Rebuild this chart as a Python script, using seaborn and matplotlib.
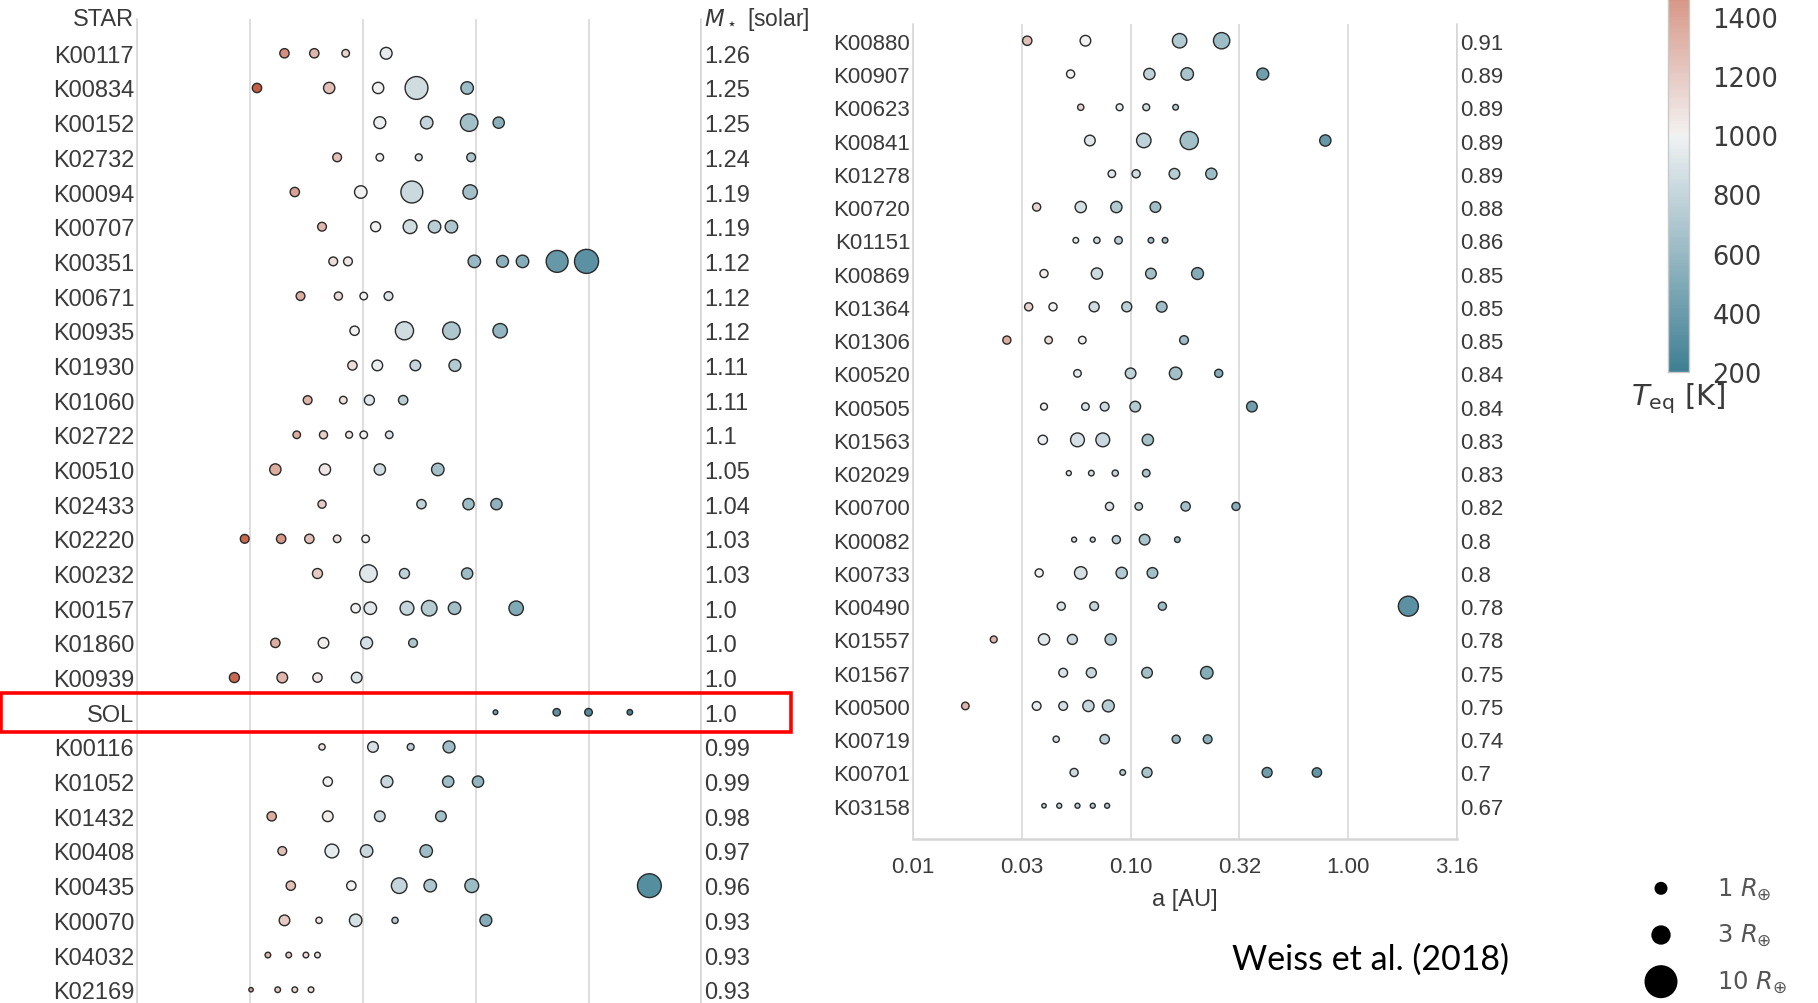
import numpy as np
import pandas as pd
import matplotlib
matplotlib.use("Agg")
import matplotlib.pyplot as plt
import matplotlib.transforms as mtransforms
from matplotlib.patches import Rectangle
from matplotlib.colors import Normalize
from matplotlib.cm import ScalarMappable
from matplotlib.ticker import NullLocator
import seaborn as sns

# ---------------------------------------------------------------------------
# Host stars, stellar masses [M_sun]
# ---------------------------------------------------------------------------
stars_left = ["K00117", "K00834", "K00152", "K02732", "K00094", "K00707",
              "K00351", "K00671", "K00935", "K01930", "K01060", "K02722",
              "K00510", "K02433", "K02220", "K00232", "K00157", "K01860",
              "K00939", "SOL", "K00116", "K01052", "K01432", "K00408",
              "K00435", "K00070", "K04032", "K02169"]
mass_left = [1.26, 1.25, 1.25, 1.24, 1.19, 1.19, 1.12, 1.12, 1.12, 1.11,
             1.11, 1.1, 1.05, 1.04, 1.03, 1.03, 1.0, 1.0, 1.0, 1.0, 0.99,
             0.99, 0.98, 0.97, 0.96, 0.93, 0.93, 0.93]

stars_right = ["K00880", "K00907", "K00623", "K00841", "K01278", "K00720",
               "K01151", "K00869", "K01364", "K01306", "K00520", "K00505",
               "K01563", "K02029", "K00700", "K00082", "K00733", "K00490",
               "K01557", "K01567", "K00500", "K00719", "K00701", "K03158"]
mass_right = [0.91, 0.89, 0.89, 0.89, 0.89, 0.88, 0.86, 0.85, 0.85, 0.85,
              0.84, 0.84, 0.83, 0.83, 0.82, 0.8, 0.8, 0.78, 0.78, 0.75,
              0.75, 0.74, 0.7, 0.67]

# ---------------------------------------------------------------------------
# Planets per star: semi-major axis [AU], radius [R_earth], T_eq [K]
# ---------------------------------------------------------------------------
a_left = [
    [0.045, 0.061, 0.084, 0.127],                 # K00117
    [0.034, 0.071, 0.117, 0.173, 0.29],           # K00834
    [0.119, 0.192, 0.296, 0.40],                  # K00152
    [0.077, 0.119, 0.177, 0.302],                 # K02732
    [0.050, 0.098, 0.165, 0.299],                 # K00094
    [0.066, 0.114, 0.162, 0.208, 0.247],          # K00707
    [0.074, 0.086, 0.312, 0.416, 0.51, 0.726, 0.98],  # K00351
    [0.053, 0.078, 0.101, 0.130],                 # K00671
    [0.092, 0.153, 0.247, 0.406],                 # K00935
    [0.090, 0.116, 0.171, 0.256],                 # K01930
    [0.057, 0.082, 0.107, 0.151],                 # K01060
    [0.051, 0.067, 0.087, 0.101, 0.131],          # K02722
    [0.041, 0.068, 0.119, 0.215],                 # K00510
    [0.066, 0.182, 0.294, 0.391],                 # K02433
    [0.030, 0.0435, 0.058, 0.077, 0.103],         # K02220
    [0.063, 0.106, 0.153, 0.29],                  # K00232
    [0.093, 0.108, 0.157, 0.197, 0.255, 0.478],   # K00157
    [0.041, 0.067, 0.104, 0.167],                 # K01860
    [0.027, 0.044, 0.063, 0.094],                 # K00939
    [0.387, 0.723, 1.0, 1.524],                   # SOL
    [0.066, 0.111, 0.163, 0.241],                 # K00116
    [0.070, 0.128, 0.239, 0.324],                 # K01052
    [0.0395, 0.070, 0.119, 0.222],                # K01432
    [0.044, 0.073, 0.104, 0.191],                 # K00408
    [0.048, 0.089, 0.145, 0.199, 0.304, 1.86],    # K00435
    [0.045, 0.064, 0.093, 0.139, 0.351],          # K00070
    [0.038, 0.047, 0.056, 0.063],                 # K04032
    [0.032, 0.042, 0.050, 0.059],                 # K02169
]
r_left = [
    [1.5, 1.5, 1.0, 2.4],
    [1.5, 2.2, 2.2, 9.0, 2.7],
    [2.45, 2.7, 5.3, 2.2],
    [1.33, 0.98, 0.82, 1.33],
    [1.5, 2.7, 8.3, 3.6],
    [1.33, 1.73, 3.3, 2.7, 2.7],
    [1.33, 1.33, 2.7, 2.45, 2.7, 8.3, 10.8],
    [1.33, 1.14, 0.98, 1.33],
    [1.5, 5.7, 5.3, 3.6],
    [1.5, 1.96, 1.96, 2.45],
    [1.33, 0.98, 1.73, 1.5],
    [0.98, 1.14, 0.82, 0.98, 0.98],
    [2.2, 2.2, 2.2, 2.7],
    [1.14, 1.5, 2.2, 2.2],
    [1.33, 1.5, 1.5, 0.98, 0.98],
    [1.73, 5.3, 1.73, 2.2],
    [1.5, 2.7, 3.3, 4.2, 2.7, 3.6],
    [1.5, 1.96, 2.45, 1.33],
    [1.73, 1.96, 1.5, 1.96],
    [0.38, 0.95, 1.0, 0.53],
    [0.68, 1.96, 0.82, 2.45],
    [1.5, 2.45, 2.2, 2.2],
    [1.5, 1.96, 1.96, 1.96],
    [1.33, 3.3, 2.7, 2.7],
    [1.5, 1.5, 4.2, 2.7, 3.3, 9.8],
    [1.96, 0.68, 2.7, 0.68, 2.45],
    [0.55, 0.55, 0.55, 0.55],
    [0.33, 0.55, 0.55, 0.55],
]
teq_left = [
    [1500, 1300, 1150, 950],
    [1750, 1250, 1000, 850, 620],
    [980, 800, 650, 540],
    [1250, 1000, 900, 700],
    [1400, 1000, 830, 650],
    [1300, 1000, 850, 750, 700],
    [1100, 1050, 600, 550, 520, 380, 330],
    [1350, 1120, 1000, 900],
    [1000, 850, 700, 580],
    [1100, 980, 800, 720],
    [1300, 1080, 920, 750],
    [1350, 1180, 1050, 1000, 900],
    [1350, 1050, 850, 650],
    [1200, 780, 620, 560],
    [1700, 1450, 1250, 1080, 1000],
    [1200, 920, 780, 620],
    [1000, 930, 800, 730, 650, 500],
    [1350, 1020, 870, 700],
    [1700, 1300, 1050, 900],
    [440, 330, 280, 225],
    [1080, 880, 760, 640],
    [1000, 820, 640, 580],
    [1350, 1020, 830, 650],
    [1250, 950, 820, 630],
    [1250, 1000, 800, 700, 620, 300],
    [1200, 1050, 880, 730, 520],
    [1300, 1200, 1120, 1080],
    [1400, 1200, 1120, 1080],
]

a_right = [
    [0.0335, 0.062, 0.168, 0.262],                # K00880
    [0.053, 0.122, 0.182, 0.405],                 # K00907
    [0.059, 0.089, 0.118, 0.161],                 # K00623
    [0.065, 0.115, 0.186, 0.785],                 # K00841
    [0.082, 0.106, 0.159, 0.235],                 # K01278
    [0.037, 0.059, 0.086, 0.130],                 # K00720
    [0.056, 0.070, 0.088, 0.124, 0.144],          # K01151
    [0.040, 0.070, 0.124, 0.203],                 # K00869
    [0.034, 0.044, 0.068, 0.096, 0.139],          # K01364
    [0.027, 0.042, 0.060, 0.176],                 # K01306
    [0.057, 0.100, 0.161, 0.254],                 # K00520
    [0.040, 0.062, 0.076, 0.105, 0.361],          # K00505
    [0.0395, 0.057, 0.0745, 0.120],               # K01563
    [0.052, 0.066, 0.085, 0.118],                 # K02029
    [0.080, 0.109, 0.179, 0.305],                 # K00700
    [0.055, 0.067, 0.086, 0.116, 0.164],          # K00082
    [0.038, 0.059, 0.091, 0.126],                 # K00733
    [0.048, 0.068, 0.140, 1.89],                  # K00490
    [0.0235, 0.040, 0.054, 0.081],                # K01557
    [0.049, 0.066, 0.119, 0.224],                 # K01567
    [0.0174, 0.037, 0.049, 0.064, 0.079],         # K00500
    [0.0455, 0.076, 0.162, 0.226],                # K00719
    [0.055, 0.092, 0.119, 0.424, 0.718],          # K00701
    [0.040, 0.047, 0.057, 0.067, 0.078],          # K03158
]
r_right = [
    [1.5, 1.96, 3.6, 4.6],
    [1.14, 2.2, 2.7, 2.45],
    [0.68, 0.82, 0.82, 0.55],
    [1.96, 3.6, 5.7, 2.2],
    [0.98, 1.14, 1.96, 2.2],
    [1.14, 2.2, 2.2, 1.96],
    [0.55, 0.68, 0.98, 0.55, 0.55],
    [1.14, 2.2, 1.96, 2.45],
    [1.14, 1.14, 1.73, 1.73, 1.96],
    [1.14, 0.98, 0.98, 1.33],
    [0.98, 1.96, 2.7, 1.14],
    [0.82, 0.98, 1.33, 1.96, 1.96],
    [1.5, 3.3, 3.3, 2.2],
    [0.43, 0.55, 0.68, 0.98],
    [1.14, 0.98, 1.5, 1.14],
    [0.43, 0.43, 1.14, 1.96, 0.55],
    [1.14, 2.7, 2.2, 1.96],
    [1.14, 1.33, 1.14, 6.9],
    [0.82, 2.2, 1.73, 2.2],
    [1.33, 1.73, 1.96, 2.7],
    [0.98, 1.33, 1.33, 2.2, 2.45],
    [0.68, 1.52, 1.14, 1.33],
    [1.14, 0.55, 1.73, 1.73, 1.52],
    [0.33, 0.43, 0.43, 0.43, 0.43],
]
teq_right = [
    [1250, 1000, 720, 620],
    [1000, 780, 680, 420],
    [1150, 950, 850, 750],
    [920, 770, 650, 380],
    [920, 850, 740, 620],
    [1150, 880, 720, 640],
    [950, 850, 760, 680, 650],
    [1020, 840, 650, 520],
    [1150, 1000, 850, 760, 640],
    [1350, 1120, 1000, 640],
    [950, 780, 650, 520],
    [1000, 900, 840, 730, 420],
    [980, 880, 820, 660],
    [950, 870, 800, 680],
    [900, 780, 650, 530],
    [880, 830, 760, 680, 580],
    [1000, 880, 720, 650],
    [900, 800, 620, 330],
    [1300, 920, 820, 720],
    [900, 820, 650, 520],
    [1300, 950, 880, 800, 740],
    [870, 750, 600, 550],
    [840, 740, 680, 420, 370],
    [800, 780, 750, 730, 720],
]

# Size key values [R_earth]
legend_radii = [1, 3, 10]

# Colour-bar tick values [K]
teq_ticks = [200, 400, 600, 800, 1000, 1200, 1400]

# ---------------------------------------------------------------------------
# Style
# ---------------------------------------------------------------------------
sns.set_theme(style="white")
plt.rcParams["font.family"] = ["Liberation Sans", "DejaVu Sans"]
plt.rcParams["mathtext.fontset"] = "dejavusans"

W, H = 1818, 1004
fig = plt.figure(figsize=(W / 100, H / 100), dpi=100)

GRID = "#d5d5d5"
TXT = "#3a3a3a"
cmap = sns.diverging_palette(220, 20, as_cmap=True)
TEQ_NORM = (200, 1800)


def px_axes(x0, y0, x1, y1):
    """Axes placed by pixel box (top-left origin)."""
    return fig.add_axes([x0 / W, 1 - y1 / H, (x1 - x0) / W, (y1 - y0) / H])


def planet_frame(stars, a_lists, r_lists, t_lists):
    rec = []
    for row, (s, aa, rr, tt) in enumerate(zip(stars, a_lists, r_lists, t_lists)):
        for a, r, t in zip(aa, rr, tt):
            rec.append({"star": s, "row": row, "a": a, "radius": r, "teq": t})
    return pd.DataFrame(rec)


def draw_panel(ax, stars, masses, a_lists, r_lists, t_lists, row_offset,
               ylim, label_size):
    df = planet_frame(stars, a_lists, r_lists, t_lists)
    ax.set_xscale("log")
    sns.scatterplot(data=df, x="a", y="row", hue="teq", size="radius",
                    palette=cmap, hue_norm=TEQ_NORM,
                    sizes=(0, 300), size_norm=(0, 10),
                    edgecolor="#2a2a2a", linewidth=1.0, legend=False,
                    ax=ax, zorder=3)
    ax.set_xlim(10 ** -2, 10 ** 0.5)
    ax.set_ylim(*ylim)
    xt = 10 ** np.arange(-2, 0.51, 0.5)
    ax.set_xticks(xt)
    ax.set_xticklabels([f"{v:.2f}" for v in xt])
    ax.xaxis.set_minor_locator(NullLocator())
    rows = np.arange(len(stars))
    ax.set_yticks(rows)
    ax.set_yticklabels(stars)
    ax.set_yticks([r for r in rows if (r + row_offset) % 10 == 2], minor=True)
    ax.grid(False)
    ax.grid(True, axis="x", which="major", color=GRID, lw=1.1)
    ax.grid(True, axis="y", which="minor", color=GRID, lw=1.6)
    ax.set_axisbelow(True)
    ax.tick_params(which="both", length=0)
    ax.tick_params(axis="y", pad=2, labelsize=label_size, labelcolor=TXT)
    ax.tick_params(axis="x", pad=12, labelsize=16, labelcolor=TXT)
    ax.set_xlabel("")
    ax.set_ylabel("")
    ax.spines["top"].set_visible(False)
    for side in ("left", "right", "bottom"):
        ax.spines[side].set_color(GRID)
        ax.spines[side].set_linewidth(1.1)

    ax2 = ax.twinx()
    ax2.set_ylim(ax.get_ylim())
    ax2.set_yticks(rows)
    ax2.set_yticklabels([str(m) for m in masses])
    ax2.tick_params(length=0, pad=2, labelsize=label_size, labelcolor=TXT)
    ax2.grid(False)
    for sp in ax2.spines.values():
        sp.set_visible(False)
    return ax2


# ---------------------------------------------------------------------------
# Left column (first 28 systems, incl. the Solar System)
# ---------------------------------------------------------------------------
ax_l = px_axes(137, 19.6, 701.4, 1025.4)
draw_panel(ax_l, stars_left, mass_left, a_left, r_left, teq_left,
           row_offset=0, ylim=(28, -1), label_size=17)
ax_l.tick_params(axis="x", labelbottom=False)

ax_l.annotate("STAR", xy=(0, -1), xycoords=("axes fraction", "data"),
              xytext=(-2, 0), textcoords="offset points", ha="right",
              va="center", fontsize=17, color=TXT)
ax_l.annotate(r"$M_\star$ [solar]", xy=(1, -1), xycoords=("axes fraction", "data"),
              xytext=(2, 0), textcoords="offset points", ha="left",
              va="center", fontsize=16.5, color=TXT)

# Highlight box around the Solar System row
sol_row = stars_left.index("SOL")
box = Rectangle((0.0008, sol_row - 0.56), 0.4345, 1.12,
                transform=mtransforms.blended_transform_factory(fig.transFigure,
                                                                ax_l.transData),
                fill=False, edgecolor="#ff0000", linewidth=2.6, zorder=10)
fig.add_artist(box)

# ---------------------------------------------------------------------------
# Right column
# ---------------------------------------------------------------------------
ax_r = px_axes(913, 25.1, 1457, 840)
draw_panel(ax_r, stars_right, mass_right, a_right, r_right, teq_right,
           row_offset=len(stars_left), ylim=(24, -0.5), label_size=16)
ax_r.spines["bottom"].set_linewidth(1.8)
ax_r.set_xlabel("a [AU]", fontsize=17, color=TXT, labelpad=8)

# ---------------------------------------------------------------------------
# Colour bar for equilibrium temperature
# ---------------------------------------------------------------------------
cax = px_axes(1668, -100, 1689, 372.7)
sm = ScalarMappable(norm=Normalize(*TEQ_NORM), cmap=cmap)
cb = fig.colorbar(sm, cax=cax, ticks=teq_ticks)
cb.outline.set_edgecolor("#c9c9c9")
cb.outline.set_linewidth(1.0)
cax.tick_params(length=0, pad=17, labelsize=18.5, labelcolor=TXT)
for lab in cax.get_yticklabels():
    lab.set_family("DejaVu Sans")
fig.text(1678 / W, 1 - 399 / H, r"$T_{\rm eq}$ [K]", ha="center", va="center",
         fontsize=21, color=TXT, family="DejaVu Sans")

# ---------------------------------------------------------------------------
# Size key
# ---------------------------------------------------------------------------
lax = px_axes(1640, 866, 1818, 1006)
ldf = pd.DataFrame({"x": [0.118] * len(legend_radii),
                    "y": np.arange(len(legend_radii)),
                    "radius": legend_radii})
sns.scatterplot(data=ldf, x="x", y="y", size="radius", sizes=(87.6, 564.6),
                size_norm=(1, 10), color="black", linewidth=0, legend=False,
                ax=lax)
lax.set_xlim(0, 1)
lax.set_ylim(len(legend_radii) - 0.5, -0.5)
lax.axis("off")
ltrans = mtransforms.blended_transform_factory(lax.transAxes, lax.transData)
for i, r in enumerate(legend_radii):
    lax.text(0.43, i, f"{r} " + r"$R_{\oplus}$", transform=ltrans, ha="left",
             va="center", fontsize=17.5, color="#555555", family="DejaVu Sans")

fig.text(1232 / W, 1 - 960 / H, "Weiss et al. (2018)", ha="left", va="center",
         fontsize=24.5, color="black", family=["Lato", "DejaVu Sans"])

fig.savefig("out.png", dpi=100)
